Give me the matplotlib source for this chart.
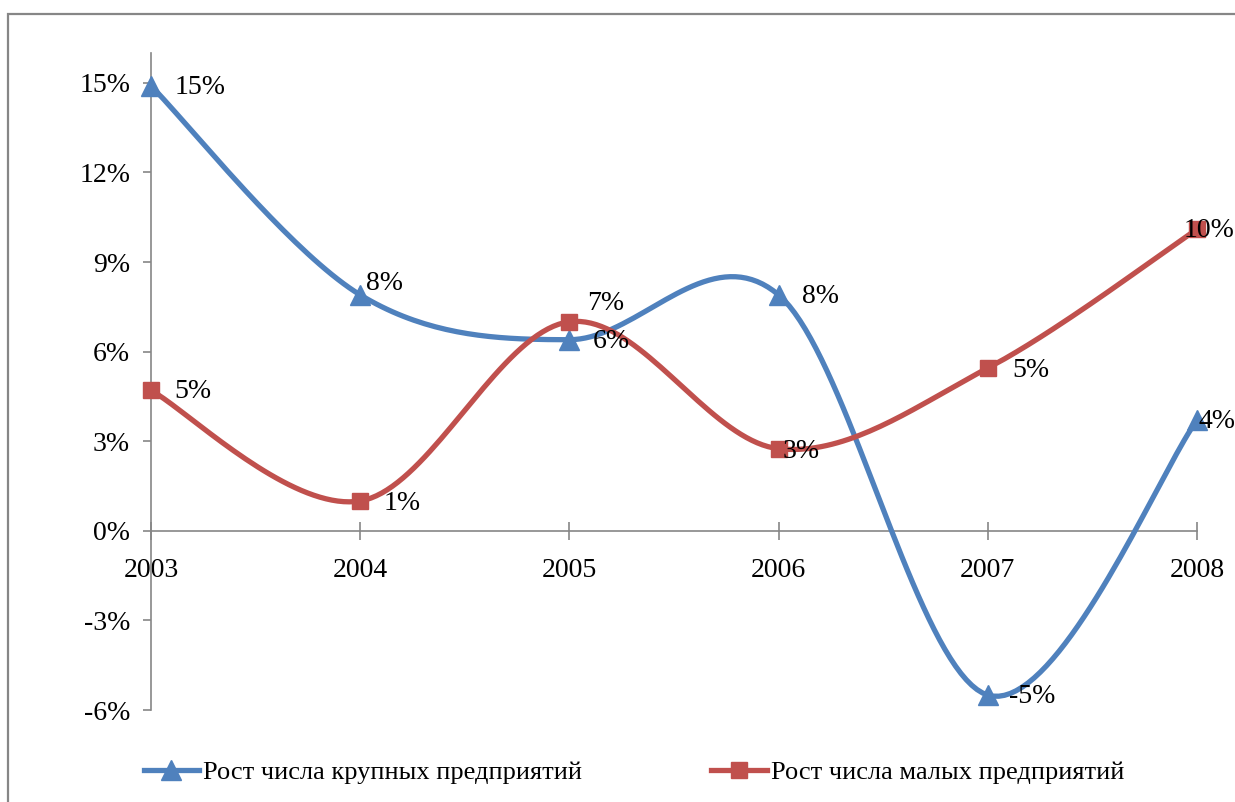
import numpy as np
import matplotlib
matplotlib.use("Agg")
import matplotlib.pyplot as plt
from matplotlib.patches import Rectangle

# data
years = [2003, 2004, 2005, 2006, 2007, 2008]
large = [14.9, 7.9, 6.4, 7.9, -5.5, 3.7]     # рост числа крупных предприятий, %
small = [4.7, 1.0, 7.0, 2.75, 5.45, 10.1]    # рост числа малых предприятий, %
large_labels = ["15%", "8%", "6%", "8%", "-5%", "4%"]
small_labels = ["5%", "1%", "7%", "3%", "5%", "10%"]
yticks = [-6, -3, 0, 3, 6, 9, 12, 15]

# label offsets (points), as placed in the original
large_off = [(17, -1), (4, 8), (17, -1), (17, -1), (15, -1), (1, -1)]
small_off = [(17, -1), (17, -2), (13, 13), (3, -2), (18, -2), (-9.5, -1)]

BLUE = "#4F81BD"
RED = "#C0504D"
GRAY = "#868686"

plt.rcParams["font.family"] = ["Liberation Serif", "DejaVu Serif"]

fig = plt.figure(figsize=(12.35, 8.02), dpi=100)
ax = fig.add_axes([151 / 1235, 92 / 802, 1046 / 1235, 657 / 802])
ax.set_xlim(2003, 2008)
ax.set_ylim(-6, 16)

# outer chart frame
fig.patches.append(Rectangle((8 / 1235, -0.1), 1.2, 1 - 14 / 802 + 0.1,
                             transform=fig.transFigure, fill=False,
                             edgecolor=GRAY, linewidth=1.6))


def smooth(xs, ys):
    # Excel-like smoothed line: cubic bezier through points, computed in pixels
    pts = ax.transData.transform(np.column_stack([xs, ys]))
    n = len(pts)
    t = np.linspace(0, 1, 40)[:, None]
    out = []
    for i in range(n - 1):
        p0 = pts[max(i - 1, 0)]
        p1 = pts[i]
        p2 = pts[i + 1]
        p3 = pts[min(i + 2, n - 1)]
        c1 = p1 + (p2 - p0) / 6
        c2 = p2 - (p3 - p1) / 6
        seg = ((1 - t) ** 3) * p1 + 3 * ((1 - t) ** 2) * t * c1 + 3 * (1 - t) * t ** 2 * c2 + t ** 3 * p2
        out.append(seg)
    curve = np.vstack(out)
    return ax.transData.inverted().transform(curve).T


for vals, color, marker, ms, labels, offs, name in [
    (large, BLUE, "^", 14, large_labels, large_off, "Рост числа крупных предприятий"),
    (small, RED, "s", 12, small_labels, small_off, "Рост числа малых предприятий"),
]:
    cx, cy = smooth(years, vals)
    ax.plot(cx, cy, color=color, lw=3.8, solid_capstyle="round", zorder=3)
    ax.plot(years, vals, linestyle="none", marker=marker, markersize=ms,
            color=color, zorder=4, clip_on=False)
    # legend proxy
    ax.plot([], [], color=color, lw=3.8, marker=marker, markersize=ms, label=name)
    for x, v, lab, (dx, dy) in zip(years, vals, labels, offs):
        ax.annotate(lab, (x, v), xytext=(dx, dy), textcoords="offset points",
                    ha="left", va="center", fontsize=20, zorder=5,
                    annotation_clip=False)

# axes styling
for s in ["top", "right"]:
    ax.spines[s].set_visible(False)
ax.spines["bottom"].set_position(("data", 0))
ax.spines["bottom"].set_color(GRAY)
ax.spines["left"].set_color(GRAY)
ax.spines["bottom"].set_linewidth(1.2)
ax.spines["left"].set_linewidth(1.2)

ax.set_xticks(years)
ax.set_xticklabels([str(y) for y in years])
ax.set_yticks(yticks)
ax.set_yticklabels([f"{v}%" for v in yticks])
ax.tick_params(axis="x", direction="inout", length=13, width=1.2, color=GRAY,
               labelsize=20, pad=13)
ax.tick_params(axis="y", direction="out", length=6, width=1.2, color=GRAY,
               labelsize=20, pad=9)

fig.legend(loc="center", bbox_to_anchor=(634 / 1235, 30 / 802), ncol=2,
           frameon=False, fontsize=19, handlelength=2.1, handletextpad=0.15,
           columnspacing=4.9)

fig.savefig("out.png", dpi=100)
